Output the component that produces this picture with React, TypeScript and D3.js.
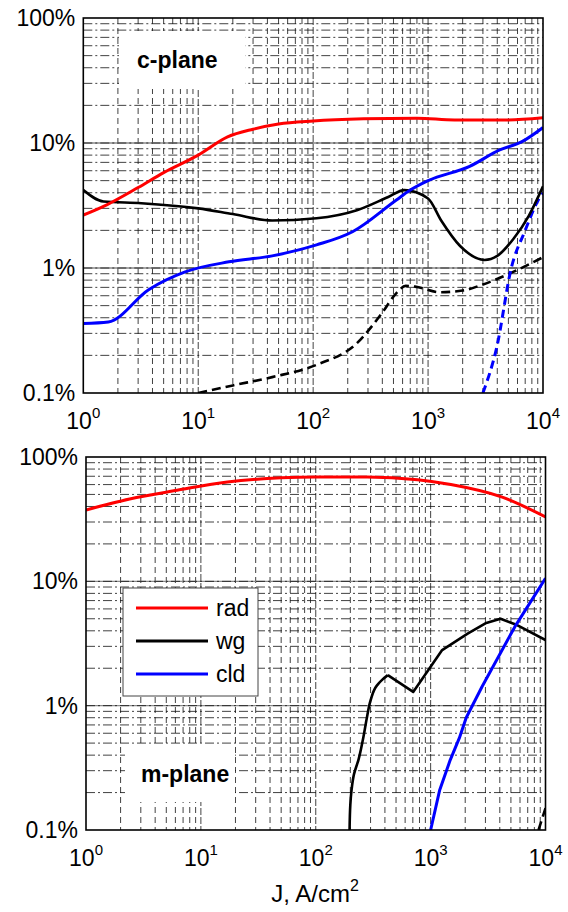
import { useEffect, useRef } from 'react';
import * as d3 from 'd3';

// x: current density J (A/cm^2), y: fraction in %
const xTickExps = ['0', '1', '2', '3', '4'];
const yTickValues = [0.1, 1, 10, 100];
const yTickLabels = ['0.1%', '1%', '10%', '100%'];

// c-plane
const cRad: [number, number][] = [
  [1, 2.65], [1.6, 3.2], [3, 4.4], [5, 5.8], [10, 8.0], [18, 11.2], [30, 12.9],
  [50, 14.2], [100, 15.0], [275, 15.6], [800, 15.8], [1700, 15.3], [5000, 15.3], [10000, 15.9],
];
const cWg: [number, number][] = [
  [1, 4.2], [1.5, 3.4], [3.2, 3.3], [10, 3.0], [20, 2.7], [44, 2.4], [107, 2.5],
  [240, 2.9], [450, 3.7], [620, 4.2], [1000, 3.6], [1300, 2.4], [1900, 1.5],
  [3100, 1.16], [4000, 1.25], [5500, 1.7], [7500, 2.6], [10000, 4.5],
];
const cCld: [number, number][] = [
  [1, 0.36], [1.65, 0.37], [3.7, 0.67], [7.7, 0.93], [18.5, 1.12], [44, 1.25],
  [107, 1.53], [220, 1.95], [530, 3.5], [700, 4.2], [1000, 5.0], [2300, 6.5],
  [4200, 8.8], [6500, 10.2], [10000, 13.3],
];
const cWgDash: [number, number][] = [
  [10, 0.1], [20, 0.115], [44, 0.134], [107, 0.168], [240, 0.25], [400, 0.44],
  [530, 0.63], [640, 0.72], [770, 0.71], [1260, 0.64], [2000, 0.66], [2900, 0.73],
  [5500, 0.93], [10000, 1.22],
];
const cCldDash: [number, number][] = [
  [3000, 0.1], [3950, 0.23], [5300, 1.0], [7000, 2.0], [9100, 3.5], [10000, 4.0],
];

// m-plane
const mRad: [number, number][] = [
  [1, 37.5], [2.4, 46], [6.2, 54], [17, 63], [50, 68], [100, 69], [280, 69],
  [770, 65.5], [1500, 60], [4200, 47.5], [10000, 33],
];
const mWgRise: [number, number][] = [
  [197, 0.1], [200, 0.16], [205, 0.21], [215, 0.28], [236, 0.37], [260, 0.56],
  [280, 0.82], [300, 1.1], [340, 1.45], [380, 1.62], [424, 1.76],
];
const mWg: [number, number][] = [
  [424, 1.76], [705, 1.29], [1260, 2.8], [2100, 3.8], [3000, 4.6],
  [4060, 5.0], [5500, 4.5], [10000, 3.37],
];
const mCld: [number, number][] = [
  [1000, 0.1], [1200, 0.21], [1480, 0.365], [1780, 0.55], [2040, 0.8], [2800, 1.42],
  [5400, 4.3], [10000, 10.6],
];
const mWgDash: [number, number][] = [[8700, 0.1], [10000, 0.15]];

const legendNames = ['rad', 'wg', 'cld'];
const legendColors = ['#ff0000', '#000000', '#0000ff'];

const FONT = 'Liberation Sans, Arial, sans-serif';

type Series = { data: [number, number][]; color: string; dash?: string; curve?: d3.CurveFactory };

type PanelCfg = {
  id: string;
  left: number;
  right: number;
  top: number;
  bottom: number;
  series: Series[];
  label: string;
  labelX: number;
  labelY: number;
  box: [number, number, number, number];
};

function drawPanel(svg: d3.Selection<SVGSVGElement, unknown, null, undefined>, cfg: PanelCfg) {
  const x = d3.scaleLog().domain([1, 1e4]).range([cfg.left, cfg.right]);
  const y = d3.scaleLog().domain([0.1, 100]).range([cfg.bottom, cfg.top]);
  const g = svg.append('g');

  const xMajor = [1e1, 1e2, 1e3];
  const yMajor = [1, 10];

  // vertical grid
  g.selectAll('.vgrid')
    .data(x.ticks().filter((d) => d > 1 && d < 1e4))
    .join('line')
    .attr('x1', (d) => x(d))
    .attr('x2', (d) => x(d))
    .attr('y1', cfg.top)
    .attr('y2', cfg.bottom)
    .attr('stroke', '#111')
    .attr('stroke-width', 0.8)
    .attr('stroke-dasharray', (d) => (xMajor.includes(d) ? '7,2' : '6,4'));

  // horizontal grid
  g.selectAll('.hmajor')
    .data(yMajor)
    .join('line')
    .attr('x1', cfg.left)
    .attr('x2', cfg.right)
    .attr('y1', (d) => y(d))
    .attr('y2', (d) => y(d))
    .attr('stroke', '#8a8a8a')
    .attr('stroke-width', 1.4);

  g.selectAll('.hgrid')
    .data(y.ticks().filter((d) => d > 0.1 && d < 100))
    .join('line')
    .attr('x1', cfg.left)
    .attr('x2', cfg.right)
    .attr('y1', (d) => y(d))
    .attr('y2', (d) => y(d))
    .attr('stroke', '#111')
    .attr('stroke-width', 0.8)
    .attr('stroke-dasharray', '9,3,2,3');

  // white box behind the panel label
  const [bx, by, bw, bh] = cfg.box;
  g.append('rect').attr('x', bx).attr('y', by).attr('width', bw).attr('height', bh).attr('fill', '#fff');
  g.append('text')
    .attr('x', cfg.labelX)
    .attr('y', cfg.labelY)
    .attr('font-family', FONT)
    .attr('font-weight', 'bold')
    .attr('font-size', 23)
    .text(cfg.label);

  // curves
  svg
    .append('clipPath')
    .attr('id', cfg.id)
    .append('rect')
    .attr('x', cfg.left)
    .attr('y', cfg.top)
    .attr('width', cfg.right - cfg.left)
    .attr('height', cfg.bottom - cfg.top);

  const lines = g.append('g').attr('clip-path', `url(#${cfg.id})`);
  cfg.series.forEach((s) => {
    const line = d3
      .line<[number, number]>()
      .x((d) => x(d[0]))
      .y((d) => y(d[1]))
      .curve(s.curve || d3.curveLinear);
    lines
      .append('path')
      .attr('d', line(s.data))
      .attr('fill', 'none')
      .attr('stroke', s.color)
      .attr('stroke-width', s.color === '#000000' ? 2.6 : 3)
      .attr('stroke-linejoin', 'round')
      .attr('stroke-dasharray', s.dash || null);
  });

  // frame
  g.append('rect')
    .attr('x', cfg.left)
    .attr('y', cfg.top)
    .attr('width', cfg.right - cfg.left)
    .attr('height', cfg.bottom - cfg.top)
    .attr('fill', 'none')
    .attr('stroke', '#000')
    .attr('stroke-width', 1.6);

  // y tick labels
  g.selectAll('.ylab')
    .data(yTickValues)
    .join('text')
    .attr('x', cfg.left - 8)
    .attr('y', (d) => y(d) + 8)
    .attr('text-anchor', 'end')
    .attr('font-family', FONT)
    .attr('font-size', 23)
    .text((d, i) => yTickLabels[i]);

  // x tick labels 10^n
  const xl = g
    .selectAll('.xlab')
    .data(xTickExps)
    .join('text')
    .attr('x', (d) => x(Math.pow(10, +d)))
    .attr('y', cfg.bottom + 36)
    .attr('text-anchor', 'middle')
    .attr('font-family', FONT)
    .attr('font-size', 23);
  xl.append('tspan').text('10');
  xl.append('tspan').attr('dy', -11).attr('font-size', 15).text((d) => d);

  return { x, y };
}

const App = () => {
  const ref = useRef<SVGSVGElement>(null);

  useEffect(() => {
    const svg = d3.select(ref.current as SVGSVGElement);
    svg.selectAll('*').remove();

    drawPanel(svg, {
      id: 'clipTop',
      left: 83.3,
      right: 543,
      top: 18,
      bottom: 393,
      label: 'c-plane',
      labelX: 137,
      labelY: 68,
      box: [119, 31, 126, 58],
      series: [
        { data: cWgDash, color: '#000000', dash: '9,5', curve: d3.curveMonotoneX },
        { data: cCldDash, color: '#0000ff', dash: '8,5', curve: d3.curveMonotoneX },
        { data: cWg, color: '#000000', curve: d3.curveMonotoneX },
        { data: cCld, color: '#0000ff', curve: d3.curveMonotoneX },
        { data: cRad, color: '#ff0000', curve: d3.curveMonotoneX },
      ],
    });

    drawPanel(svg, {
      id: 'clipBottom',
      left: 86,
      right: 545.5,
      top: 457,
      bottom: 830,
      label: 'm-plane',
      labelX: 141,
      labelY: 782,
      box: [125, 745, 110, 57],
      series: [
        { data: mWgDash, color: '#000000', dash: '9,5' },
        { data: mWgRise, color: '#000000', curve: d3.curveMonotoneY },
        { data: mWg, color: '#000000' },
        { data: mCld, color: '#0000ff' },
        { data: mRad, color: '#ff0000', curve: d3.curveMonotoneX },
      ],
    });

    // legend
    const lg = svg.append('g');
    lg.append('rect')
      .attr('x', 123)
      .attr('y', 588)
      .attr('width', 135)
      .attr('height', 108)
      .attr('fill', '#fff')
      .attr('stroke', '#444')
      .attr('stroke-width', 1);
    const items = lg
      .selectAll('.item')
      .data(legendNames)
      .join('g')
      .attr('transform', (d, i) => `translate(0, ${608 + i * 33})`);
    items
      .append('line')
      .attr('x1', 136)
      .attr('x2', 208)
      .attr('stroke', (d, i) => legendColors[i])
      .attr('stroke-width', 3);
    items
      .append('text')
      .attr('x', 216)
      .attr('y', 8)
      .attr('font-family', FONT)
      .attr('font-size', 23)
      .text((d) => d);

    // x axis title
    const t = svg
      .append('text')
      .attr('x', 315)
      .attr('y', 902)
      .attr('text-anchor', 'middle')
      .attr('font-family', FONT)
      .attr('font-size', 24);
    t.append('tspan').text('J, A/cm');
    t.append('tspan').attr('dy', -11).attr('font-size', 16).text('2');
  }, [ref]);

  return (
    <svg
      ref={ref}
      width={568}
      height={912}
      style={{ position: 'absolute', left: 0, top: 0, background: '#fff' }}
    />
  );
};

export default App;
